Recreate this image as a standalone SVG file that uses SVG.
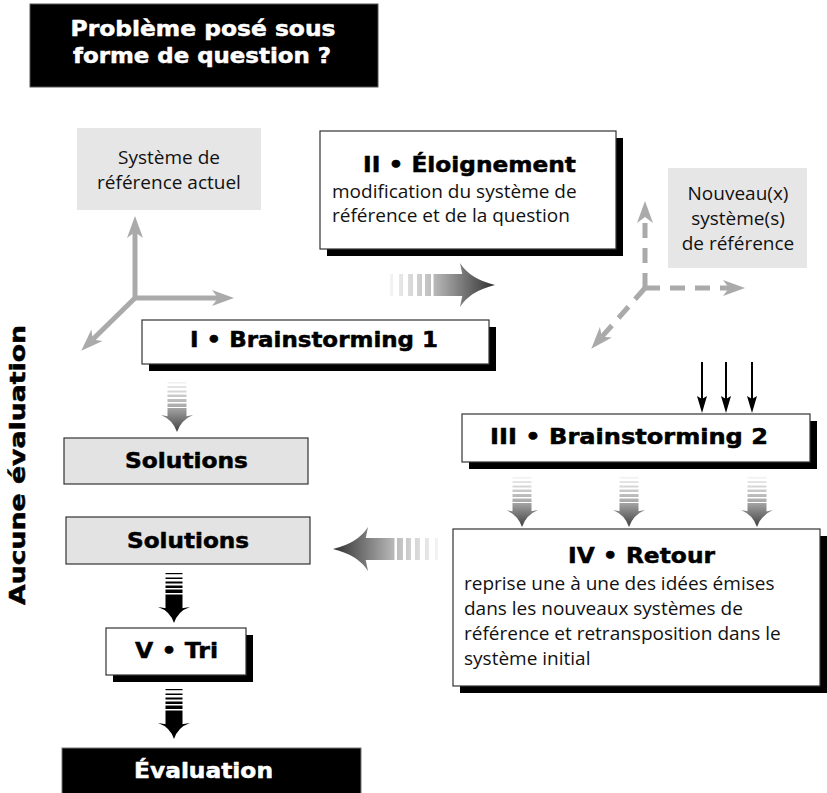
<svg xmlns="http://www.w3.org/2000/svg" width="827" height="793" viewBox="0 0 827 793">
<style>
.box{fill:#fff;stroke:#333;stroke-width:1.2}
.sh{fill:#000}
.gbox{fill:#e6e6e6}
.sol{fill:#e3e3e3;stroke:#333;stroke-width:1.2}
.bt{font-family:"DejaVu Sans","Liberation Sans",sans-serif;font-weight:bold;font-size:21px;text-anchor:middle;fill:#000;stroke:#000;stroke-width:0.5px;stroke-linejoin:round}
.wt{fill:#fff;stroke:#fff}
.rt{font-family:"Open Sans","Noto Sans",sans-serif;font-size:19px;fill:#111}
.mid{text-anchor:middle}
.ax{stroke:#aaa;stroke-width:5;fill:none}
.dax{stroke:#aaa;stroke-width:5;fill:none;stroke-dasharray:15 10}
.gap{fill:#fff}
.thin{stroke:#000;stroke-width:2;fill:none}
</style>
<defs>
<marker id="mg" markerUnits="userSpaceOnUse" markerWidth="30" markerHeight="30" viewBox="-10 -15 30 30" refX="0" refY="0" orient="auto">
<path d="M16,0 L-6,-8 L0,0 L-6,8 Z" fill="#aaa"/>
</marker>
<linearGradient id="gH" gradientUnits="userSpaceOnUse" x1="0" y1="0" x2="105" y2="0">
<stop offset="0" stop-color="#f4f4f4"/>
<stop offset="0.4" stop-color="#bdbdbd"/>
<stop offset="1" stop-color="#303030"/>
</linearGradient>
<linearGradient id="gV" gradientUnits="userSpaceOnUse" x1="0" y1="0" x2="0" y2="50">
<stop offset="0" stop-color="#f2f2f2"/>
<stop offset="0.5" stop-color="#a8a8a8"/>
<stop offset="1" stop-color="#404040"/>
</linearGradient>
<g id="harrow">
<rect x="0" y="-11" width="74" height="22" fill="url(#gH)"/>
<path d="M70,-22 Q80,-6 105,0 Q80,6 70,22 Q76,0 70,-22 Z" fill="url(#gH)"/>
<rect class="gap" x="3" y="-12" width="6" height="24"/>
<rect class="gap" x="13" y="-12" width="5" height="24"/>
<rect class="gap" x="23" y="-12" width="4" height="24"/>
<rect class="gap" x="32" y="-12" width="3" height="24"/>
<rect class="gap" x="41" y="-12" width="2.5" height="24"/>
</g>
<g id="varrow">
<rect x="-9.5" y="0" width="19" height="35" fill="url(#gV)"/>
<path d="M-16,33 Q-4,38 0,50 Q4,38 16,33 Q0,37 -16,33 Z" fill="url(#gV)"/>
<rect class="gap" x="-10" y="1.5" width="20" height="2.5"/>
<rect class="gap" x="-10" y="6" width="20" height="2.5"/>
<rect class="gap" x="-10" y="10.5" width="20" height="2"/>
<rect class="gap" x="-10" y="15" width="20" height="2"/>
<rect class="gap" x="-10" y="20" width="20" height="1.5"/>
<rect class="gap" x="-10" y="25" width="20" height="1"/>
</g>
<g id="barrow">
<rect x="-8.5" y="0" width="17" height="36" fill="#000"/>
<path d="M-16,34 Q-4,38 0,50 Q4,38 16,34 Q0,37 -16,34 Z" fill="#000"/>
<rect class="gap" x="-10" y="1.2" width="20" height="3.3"/>
<rect class="gap" x="-10" y="6" width="20" height="2.5"/>
<rect class="gap" x="-10" y="10.5" width="20" height="2"/>
<rect class="gap" x="-10" y="15" width="20" height="1.5"/>
<rect class="gap" x="-10" y="20" width="20" height="1.5"/>
</g>
</defs>

<rect width="827" height="793" fill="#fff"/>

<g id="connectors">
<line class="ax" x1="135" y1="298" x2="135" y2="232" marker-end="url(#mg)"/>
<line class="ax" x1="135" y1="298" x2="218" y2="298" marker-end="url(#mg)"/>
<line class="ax" x1="135" y1="298" x2="92.7" y2="339.5" marker-end="url(#mg)"/>
<line class="dax" x1="645" y1="288" x2="645" y2="217" marker-end="url(#mg)"/>
<line class="dax" x1="645" y1="288" x2="729" y2="288" marker-end="url(#mg)"/>
<line class="dax" x1="645" y1="288" x2="601.9" y2="336.8" marker-end="url(#mg)"/>
<use href="#harrow" transform="translate(390,285)"/>
<use href="#harrow" transform="translate(438,549) scale(-1,1)"/>
<use href="#varrow" transform="translate(177,382)"/>
<use href="#varrow" transform="translate(522,477)"/>
<use href="#varrow" transform="translate(629,477)"/>
<use href="#varrow" transform="translate(757,477)"/>
<use href="#barrow" transform="translate(174,573)"/>
<use href="#barrow" transform="translate(174,689)"/>
<line class="thin" x1="702" y1="362" x2="702" y2="402"/>
<polygon points="697,396 702,413 707,396 702,399" fill="#000"/>
<line class="thin" x1="726" y1="362" x2="726" y2="402"/>
<polygon points="721,396 726,413 731,396 726,399" fill="#000"/>
<line class="thin" x1="752" y1="362" x2="752" y2="402"/>
<polygon points="747,396 752,413 757,396 752,399" fill="#000"/>
</g>

<g id="question">
<rect x="30" y="4" width="348" height="83" fill="#000" stroke="#555" stroke-width="1"/>
<text class="bt wt" x="203" y="36" textLength="265" lengthAdjust="spacingAndGlyphs">Problème posé sous</text>
<text class="bt wt" x="202" y="63" textLength="258" lengthAdjust="spacingAndGlyphs">forme de question ?</text>
</g>

<g id="ref-actuel">
<rect class="gbox" x="77" y="128" width="184" height="82"/>
<text class="rt mid" x="169" y="164">Système de</text>
<text class="rt mid" x="169" y="189">référence actuel</text>
</g>

<g id="eloignement">
<rect class="sh" x="327" y="138" width="296" height="118"/>
<rect class="box" x="320" y="131" width="296" height="118"/>
<text class="bt" x="469.5" y="172" textLength="213" lengthAdjust="spacingAndGlyphs">II • Éloignement</text>
<text class="rt" x="332" y="198">modification du système de</text>
<text class="rt" x="332" y="222">référence et de la question</text>
</g>

<g id="ref-nouveau">
<rect class="gbox" x="668" y="168" width="139" height="100"/>
<text class="rt mid" x="738" y="200">Nouveau(x)</text>
<text class="rt mid" x="738" y="225">système(s)</text>
<text class="rt mid" x="738" y="250">de référence</text>
</g>

<g id="brainstorming1">
<rect class="sh" x="149" y="327" width="347" height="44"/>
<rect class="box" x="142" y="320" width="347" height="44"/>
<text class="bt" x="314" y="347" textLength="248" lengthAdjust="spacingAndGlyphs">I • Brainstorming 1</text>
</g>

<g id="aucune-evaluation">
<text class="bt" transform="translate(25,465) rotate(-90)" x="0" y="0" style="font-size:22px" textLength="280" lengthAdjust="spacingAndGlyphs">Aucune évaluation</text>
</g>

<g id="solutions1">
<rect class="sol" x="64" y="438" width="244" height="46"/>
<text class="bt" x="186.5" y="468" textLength="123" lengthAdjust="spacingAndGlyphs">Solutions</text>
</g>

<g id="brainstorming2">
<rect class="sh" x="469" y="421" width="348" height="48"/>
<rect class="box" x="462" y="414" width="348" height="48"/>
<text class="bt" x="629" y="444" textLength="278" lengthAdjust="spacingAndGlyphs">III • Brainstorming 2</text>
</g>

<g id="solutions2">
<rect class="sol" x="66" y="517" width="244" height="47"/>
<text class="bt" x="188" y="548" textLength="122" lengthAdjust="spacingAndGlyphs">Solutions</text>
</g>

<g id="retour">
<rect class="sh" x="460" y="536" width="367" height="157"/>
<rect class="box" x="453" y="529" width="367" height="157"/>
<text class="bt" x="641.5" y="563" textLength="147" lengthAdjust="spacingAndGlyphs">IV • Retour</text>
<text class="rt" x="464" y="590">reprise une à une des idées émises</text>
<text class="rt" x="464" y="615">dans les nouveaux systèmes de</text>
<text class="rt" x="464" y="640">référence et retransposition dans le</text>
<text class="rt" x="464" y="665">système initial</text>
</g>

<g id="tri">
<rect class="sh" x="113" y="635" width="140" height="47"/>
<rect class="box" x="106" y="628" width="140" height="47"/>
<text class="bt" x="176.5" y="658" textLength="83" lengthAdjust="spacingAndGlyphs">V • Tri</text>
</g>

<g id="evaluation">
<rect x="62" y="748" width="299" height="46" fill="#000" stroke="#777" stroke-width="1"/>
<text class="bt wt" x="203.5" y="778" textLength="139" lengthAdjust="spacingAndGlyphs">Évaluation</text>
</g>
</svg>
